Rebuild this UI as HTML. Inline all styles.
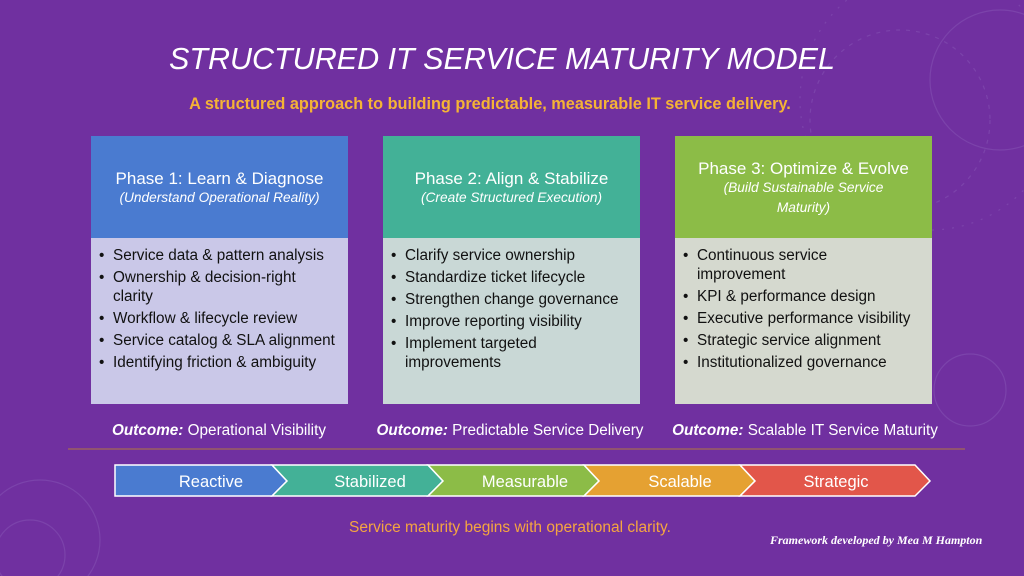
<!DOCTYPE html>
<html><head><meta charset="utf-8"><style>
*{margin:0;padding:0;box-sizing:border-box}
body{width:1024px;height:576px;background:#7030a0;position:relative;overflow:hidden;font-family:"Liberation Sans",sans-serif;color:#fff}
.abs{position:absolute}
.title{left:0;width:1004px;top:42px;text-align:center;font-size:30.5px;font-style:italic}
.sub{left:0;width:980px;top:95px;text-align:center;font-size:16.3px;font-weight:bold;color:#f5b335}
.box{top:136px;width:257px;height:268px}
.hd{height:102px;text-align:center;padding-top:33px;font-size:17px;line-height:19px}
.hd i{font-size:13.7px;display:block;line-height:20px}
.bd{height:166px;color:#111;font-size:15.3px;line-height:19px;padding:8px 2px 0 8px;white-space:nowrap}
.bd div{padding-left:14px;text-indent:-14px;margin-bottom:3px}
.bd div:before{content:"•";display:inline-block;width:14px;text-indent:0}
.out{top:422px;font-size:15.3px;width:320px;text-align:center}
</style></head><body>
<svg class="abs" style="left:0;top:0" width="1024" height="576">
<g fill="none" stroke="#8a5ab8" stroke-width="1.2" opacity="0.45">
<circle cx="970" cy="390" r="36"/><circle cx="900" cy="120" r="90" stroke-dasharray="4 6"/>
<circle cx="1000" cy="80" r="70"/><circle cx="40" cy="540" r="60"/><circle cx="30" cy="555" r="35"/>
<circle cx="930" cy="100" r="130" stroke-dasharray="2 8"/>
</g>
<line x1="68" y1="449" x2="965" y2="449" stroke="#b07840" stroke-width="1"/>
<g stroke="#fff" stroke-width="1.5">
<polygon points="115,465 272,465 287,481 272,496 115,496" fill="#4a7bd0"/>
<polygon points="272,465 428,465 443,481 428,496 272,496 287,481" fill="#43b197"/>
<polygon points="428,465 584,465 599,481 584,496 428,496 443,481" fill="#8cbc47"/>
<polygon points="584,465 740,465 755,481 740,496 584,496 599,481" fill="#e5a132"/>
<polygon points="740,465 915,465 930,481 915,496 740,496 755,481" fill="#e2564a"/>
</g>
<g font-family="Liberation Sans,sans-serif" font-size="16.5" fill="#fff" text-anchor="middle">
<text x="211" y="487">Reactive</text><text x="370" y="487">Stabilized</text><text x="525" y="487">Measurable</text><text x="680" y="487">Scalable</text><text x="836" y="487">Strategic</text>
</g>
</svg>
<div class="abs title">STRUCTURED IT SERVICE MATURITY MODEL</div>
<div class="abs sub">A structured approach to building predictable, measurable IT service delivery.</div>

<div class="abs box" style="left:91px">
<div class="hd" style="background:#4a7bd0">Phase 1: Learn &amp; Diagnose<i>(Understand Operational Reality)</i></div>
<div class="bd" style="background:#cac8e8">
<div>Service data &amp; pattern analysis</div><div>Ownership &amp; decision-right<br>clarity</div><div>Workflow &amp; lifecycle review</div><div>Service catalog &amp; SLA alignment</div><div>Identifying friction &amp; ambiguity</div></div></div>

<div class="abs box" style="left:383px">
<div class="hd" style="background:#43b197">Phase 2: Align &amp; Stabilize<i>(Create Structured Execution)</i></div>
<div class="bd" style="background:#c9d8d6">
<div>Clarify service ownership</div><div>Standardize ticket lifecycle</div><div>Strengthen change governance</div><div>Improve reporting visibility</div><div>Implement targeted<br>improvements</div></div></div>

<div class="abs box" style="left:675px">
<div class="hd" style="background:#8cbc47;padding-top:23px">Phase 3: Optimize &amp; Evolve<i>(Build Sustainable Service<br>Maturity)</i></div>
<div class="bd" style="background:#d5d9cf">
<div>Continuous service<br>improvement</div><div>KPI &amp; performance design</div><div>Executive performance visibility</div><div>Strategic service alignment</div><div>Institutionalized governance</div></div></div>

<div class="abs out" style="left:59px"><b><i>Outcome:</i></b> Operational Visibility</div>
<div class="abs out" style="left:350px"><b><i>Outcome:</i></b> Predictable Service Delivery</div>
<div class="abs out" style="left:645px"><b><i>Outcome:</i></b> Scalable IT Service Maturity</div>
<div class="abs" style="left:0;width:1020px;top:519px;text-align:center;font-size:15.5px;color:#f5a540">Service maturity begins with operational clarity.</div>
<div class="abs" style="left:770px;top:533px;font-size:12px;font-family:'Liberation Serif',serif;font-style:italic;font-weight:bold">Framework developed by Mea M Hampton</div>
</body></html>
